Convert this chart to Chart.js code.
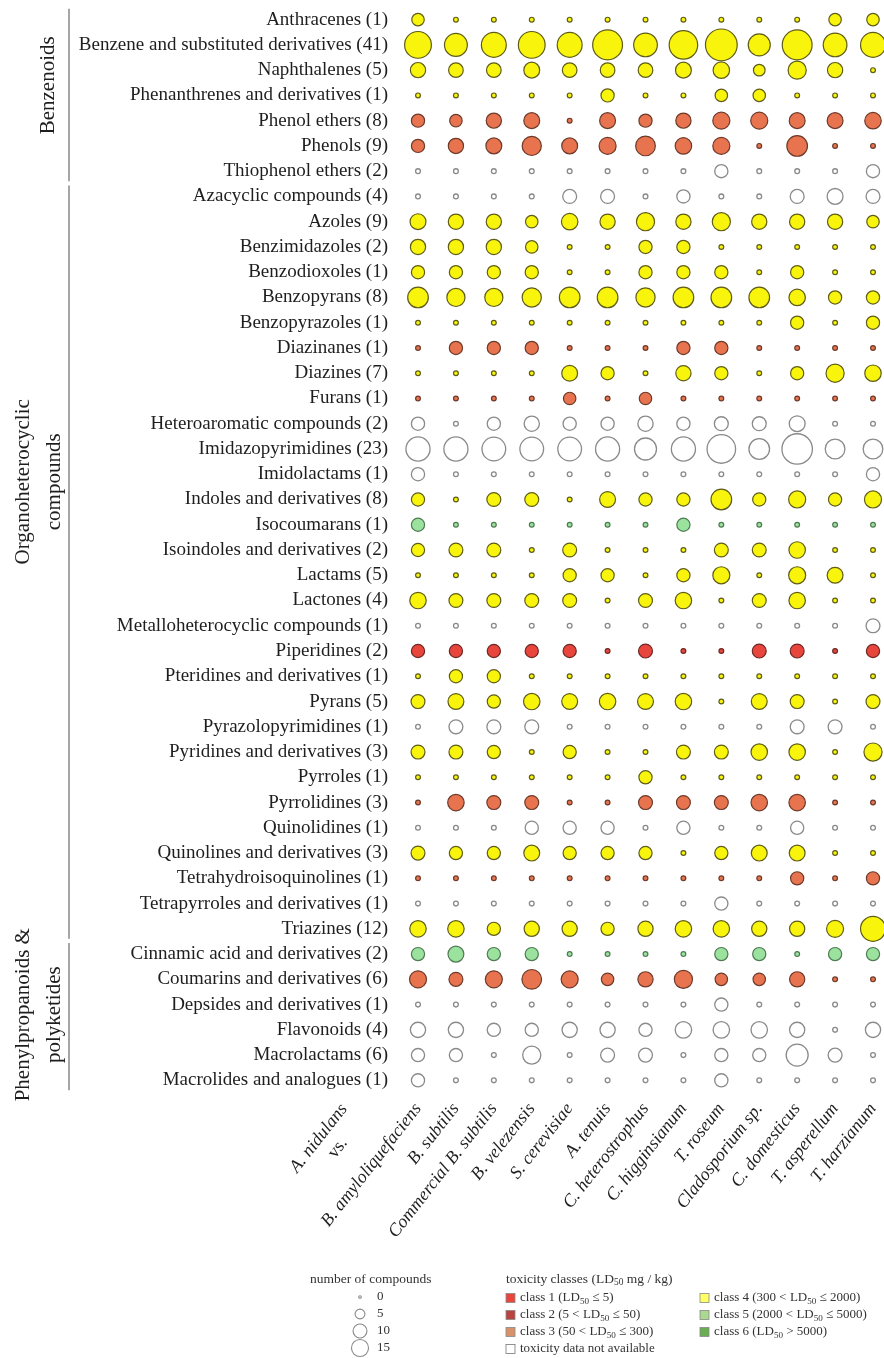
<!DOCTYPE html>
<html>
<head>
<meta charset="utf-8">
<script src="https://cdn.jsdelivr.net/npm/chart.js@4/dist/chart.umd.min.js"></script>
<style>
  html, body { margin: 0; padding: 0; background: #fff; }
  #wrap { width: 884px; height: 1358px; position: relative; }
</style>
</head>
<body>
<div id="wrap"><canvas id="chart" width="884" height="1358"></canvas></div>
<script>
// Organisms compared against A. nidulans (columns)
const species = ['B. amyloliquefaciens', 'B. subtilis', 'Commercial B. subtilis', 'B. velezensis',
  'S. cerevisiae', 'A. tenuis', 'C. heterostrophus', 'C. higginsianum', 'T. roseum',
  'Cladosporium sp.', 'C. domesticus', 'T. asperellum', 'T. harzianum'];

// Chemical classes (rows)
const compoundClasses = [
  'Anthracenes (1)', 'Benzene and substituted derivatives (41)', 'Naphthalenes (5)',
  'Phenanthrenes and derivatives (1)', 'Phenol ethers (8)', 'Phenols (9)', 'Thiophenol ethers (2)',
  'Azacyclic compounds (4)', 'Azoles (9)', 'Benzimidazoles (2)', 'Benzodioxoles (1)', 'Benzopyrans (8)',
  'Benzopyrazoles (1)', 'Diazinanes (1)', 'Diazines (7)', 'Furans (1)', 'Heteroaromatic compounds (2)',
  'Imidazopyrimidines (23)', 'Imidolactams (1)', 'Indoles and derivatives (8)', 'Isocoumarans (1)',
  'Isoindoles and derivatives (2)', 'Lactams (5)', 'Lactones (4)', 'Metalloheterocyclic compounds (1)',
  'Piperidines (2)', 'Pteridines and derivatives (1)', 'Pyrans (5)', 'Pyrazolopyrimidines (1)',
  'Pyridines and derivatives (3)', 'Pyrroles (1)', 'Pyrrolidines (3)', 'Quinolidines (1)',
  'Quinolines and derivatives (3)', 'Tetrahydroisoquinolines (1)', 'Tetrapyrroles and derivatives (1)',
  'Triazines (12)', 'Cinnamic acid and derivatives (2)', 'Coumarins and derivatives (6)',
  'Depsides and derivatives (1)', 'Flavonoids (4)', 'Macrolactams (6)', 'Macrolides and analogues (1)'];

// Toxicity class of each row (1-6, 0 = no data)
const toxicityClass = [4, 4, 4, 4, 3, 3, 0, 0, 4, 4, 4, 4, 4, 3, 4, 3, 0, 0, 0, 4, 5, 4, 4, 4, 0,
  1, 4, 4, 0, 4, 4, 3, 0, 4, 3, 0, 4, 5, 3, 0, 0, 0, 0];

// Number of compounds per class and organism (row = class, column = organism)
const compoundCounts = [
  [8, 0, 0, 0, 0, 0, 0, 0, 0, 0, 0, 8, 8],
  [37, 27, 32, 37, 32, 46, 29, 42, 52, 25, 46, 29, 32],
  [12, 11, 11, 13, 11, 11, 11, 13, 14, 7, 17, 12, 0],
  [0, 0, 0, 0, 0, 9, 0, 0, 8, 8, 0, 0, 0],
  [9, 8, 12, 13, 0, 13, 9, 12, 15, 15, 13, 13, 14],
  [9, 12, 13, 19, 13, 15, 20, 14, 15, 0, 22, 0, 0],
  [0, 0, 0, 0, 0, 0, 0, 0, 9, 0, 0, 0, 9],
  [0, 0, 0, 0, 10, 10, 0, 9, 0, 0, 10, 13, 10],
  [13, 12, 12, 8, 14, 12, 17, 12, 17, 12, 12, 12, 8],
  [12, 12, 12, 8, 0, 0, 9, 9, 0, 0, 0, 0, 0],
  [9, 9, 9, 9, 0, 0, 9, 9, 9, 0, 9, 0, 0],
  [22, 17, 17, 19, 22, 22, 19, 22, 22, 22, 14, 9, 9],
  [0, 0, 0, 0, 0, 0, 0, 0, 0, 0, 9, 0, 9],
  [0, 9, 9, 9, 0, 0, 0, 9, 9, 0, 0, 0, 0],
  [0, 0, 0, 0, 13, 9, 0, 12, 9, 0, 9, 17, 14],
  [0, 0, 0, 0, 8, 0, 8, 0, 0, 0, 0, 0, 0],
  [9, 0, 9, 12, 9, 9, 12, 9, 10, 10, 13, 0, 0],
  [30, 30, 29, 29, 29, 30, 25, 30, 42, 22, 48, 20, 20],
  [9, 0, 0, 0, 0, 0, 0, 0, 0, 0, 0, 0, 9],
  [9, 0, 10, 10, 0, 13, 9, 9, 22, 9, 15, 9, 15],
  [9, 0, 0, 0, 0, 0, 0, 9, 0, 0, 0, 0, 0],
  [9, 10, 10, 0, 10, 0, 0, 0, 10, 10, 14, 0, 0],
  [0, 0, 0, 0, 9, 9, 0, 9, 15, 0, 15, 13, 0],
  [14, 10, 10, 10, 10, 0, 10, 14, 0, 10, 14, 0, 0],
  [0, 0, 0, 0, 0, 0, 0, 0, 0, 0, 0, 0, 10],
  [9, 9, 9, 9, 9, 0, 10, 0, 0, 10, 10, 0, 9],
  [0, 9, 9, 0, 0, 0, 0, 0, 0, 0, 0, 0, 0],
  [10, 13, 9, 14, 13, 14, 13, 14, 0, 13, 10, 0, 10],
  [0, 10, 10, 10, 0, 0, 0, 0, 0, 0, 10, 10, 0],
  [10, 10, 9, 0, 9, 0, 0, 10, 10, 14, 14, 0, 17],
  [0, 0, 0, 0, 0, 0, 9, 0, 0, 0, 0, 0, 0],
  [0, 14, 10, 10, 0, 0, 10, 10, 10, 14, 14, 0, 0],
  [0, 0, 0, 9, 9, 9, 0, 9, 0, 0, 9, 0, 0],
  [10, 9, 9, 13, 9, 9, 9, 0, 9, 13, 13, 0, 0],
  [0, 0, 0, 0, 0, 0, 0, 0, 0, 0, 9, 0, 9],
  [0, 0, 0, 0, 0, 0, 0, 0, 9, 0, 0, 0, 0],
  [14, 14, 9, 12, 12, 9, 12, 14, 14, 12, 12, 15, 32],
  [9, 13, 9, 9, 0, 0, 0, 0, 9, 9, 0, 9, 9],
  [15, 10, 15, 20, 15, 8, 12, 17, 8, 8, 12, 0, 0],
  [0, 0, 0, 0, 0, 0, 0, 0, 9, 0, 0, 0, 0],
  [12, 12, 9, 9, 12, 12, 9, 14, 14, 14, 12, 0, 12],
  [9, 9, 0, 17, 0, 10, 10, 0, 9, 9, 25, 10, 0],
  [9, 0, 0, 0, 0, 0, 0, 0, 9, 0, 0, 0, 0]];

// Super-classes bracketing the rows
const superClassNames = [['Benzenoids'], ['Organoheterocyclic', 'compounds'], ['Phenylpropanoids &', 'polyketides']];
const superClassFirstRow = [0, 7, 37];
const superClassLastRow = [6, 36, 42];

// Legend entries
const sizeLegendValues = [0, 5, 10, 15];

// Styling per toxicity class (index 0 = data not available)
const bubbleFill = ['#ffffff', '#e8463d', '#b8433f', '#e8734f', '#f9f40c', '#9ae29d', '#63ad5c'];
const bubbleEdge = ['#8a8a8a', '#6d2824', '#5e2220', '#6d3a2a', '#5e5c16', '#4f7a53', '#2f5a2c'];
const legendFill = ['#ffffff', '#e8463d', '#b8433f', '#d9916a', '#ffff66', '#a9d88e', '#6aae52'];
const legendText = [
  [['toxicity data not available', 0]],
  [['class 1 (LD', 0], ['50', 1], [' \u2264 5)', 0]],
  [['class 2 (5 < LD', 0], ['50', 1], [' \u2264 50)', 0]],
  [['class 3 (50 < LD', 0], ['50', 1], [' \u2264 300)', 0]],
  [['class 4 (300 < LD', 0], ['50', 1], [' \u2264 2000)', 0]],
  [['class 5 (2000 < LD', 0], ['50', 1], [' \u2264 5000)', 0]],
  [['class 6 (LD', 0], ['50', 1], [' > 5000)', 0]]];

const SERIF = '"Liberation Serif", "DejaVu Serif", serif';

// Bubble radius (px) from number of compounds
function radiusFor(n) {
  return n > 0 ? 2.2 * Math.sqrt(n) : 2.4;
}

// One dataset per toxicity class
const datasets = [0, 1, 2, 3, 4, 5, 6].map(cls => {
  const pts = [];
  compoundClasses.forEach((name, i) => {
    if (toxicityClass[i] !== cls) return;
    species.forEach((sp, j) => {
      const n = compoundCounts[i][j];
      pts.push({ x: sp, y: name, r: radiusFor(n), n: n });
    });
  });
  return {
    label: 'class ' + cls,
    data: pts,
    backgroundColor: bubbleFill[cls],
    borderColor: bubbleEdge[cls],
    borderWidth: cls === 0 ? 1.3 : 1.2,
    clip: false
  };
}).filter(d => d.data.length);

// Draws text made of normal and subscript runs
function richText(ctx, runs, x, y, size) {
  let cx = x;
  runs.forEach(([t, sub]) => {
    ctx.font = (sub ? size * 0.7 : size) + 'px ' + SERIF;
    ctx.fillText(t, cx, y + (sub ? size * 0.28 : 0));
    cx += ctx.measureText(t).width;
  });
}

const decorations = {
  id: 'decorations',
  afterDraw(chart) {
    const ctx = chart.ctx;
    const ys = chart.scales.y;
    const xs = chart.scales.x;
    ctx.save();

    // super-class brackets and names (name centre given as a row position)
    const nameCentreRow = [2.6, 18.3, 39.4];
    superClassNames.forEach((lines, k) => {
      const y0 = ys.getPixelForValue(superClassFirstRow[k]) - 11;
      const y1 = ys.getPixelForValue(superClassLastRow[k]) + 10;
      ctx.strokeStyle = '#6a6a6a';
      ctx.lineWidth = 1.2;
      ctx.beginPath();
      ctx.moveTo(69, y0);
      ctx.lineTo(69, y1);
      ctx.stroke();
      const mid = ys.getPixelForValue(nameCentreRow[k]);
      ctx.fillStyle = '#1e1e1e';
      ctx.font = '21px ' + SERIF;
      ctx.textAlign = 'center';
      ctx.textBaseline = 'middle';
      const xsPos = lines.length === 1 ? [48] : [23, 54];
      lines.forEach((t, li) => {
        ctx.save();
        ctx.translate(xsPos[li], mid);
        ctx.rotate(-Math.PI / 2);
        ctx.fillText(t, 0, 0);
        ctx.restore();
      });
    });

    // reference organism heading of the column labels
    const ang = -52 * Math.PI / 180;
    const hx = xs.getPixelForValue(-1.95);
    const hy = xs.top + 13;
    ctx.save();
    ctx.translate(hx, hy);
    ctx.rotate(ang);
    ctx.fillStyle = '#1e1e1e';
    ctx.font = 'italic 18px ' + SERIF;
    ctx.textAlign = 'right';
    ctx.textBaseline = 'middle';
    ctx.fillText('A. nidulans', 0, 0);
    const w = ctx.measureText('A. nidulans').width;
    ctx.textAlign = 'center';
    ctx.font = '18px ' + SERIF;
    ctx.fillText('vs.', -w / 2 + 4, 21);
    ctx.restore();

    // size legend
    ctx.fillStyle = '#333';
    ctx.textBaseline = 'middle';
    ctx.textAlign = 'left';
    ctx.font = '13.5px ' + SERIF;
    ctx.fillText('number of compounds', 310, 1279);
    const rowsY = [1297, 1314, 1331, 1348];
    sizeLegendValues.forEach((v, k) => {
      ctx.beginPath();
      ctx.arc(360, rowsY[k], v === 0 ? 1.3 : radiusFor(v), 0, Math.PI * 2);
      ctx.strokeStyle = '#8a8a8a';
      ctx.lineWidth = 1.1;
      ctx.fillStyle = '#fff';
      ctx.fill();
      ctx.stroke();
      ctx.fillStyle = '#333';
      ctx.font = '13px ' + SERIF;
      ctx.fillText(String(v), 377, rowsY[k]);
    });

    // toxicity legend
    ctx.fillStyle = '#333';
    richText(ctx, [['toxicity classes (LD', 0], ['50', 1], [' mg / kg)', 0]], 506, 1279, 13.5);
    const legendSlots = [[1, 506, 1298], [2, 506, 1315], [3, 506, 1332], [0, 506, 1349],
      [4, 700, 1298], [5, 700, 1315], [6, 700, 1332]];
    legendSlots.forEach(([cls, lx, ly]) => {
      ctx.fillStyle = legendFill[cls];
      ctx.strokeStyle = cls === 0 ? '#777' : '#888';
      ctx.lineWidth = 0.8;
      ctx.fillRect(lx, ly - 4.5, 9, 9);
      ctx.strokeRect(lx, ly - 4.5, 9, 9);
      ctx.fillStyle = '#333';
      richText(ctx, legendText[cls], lx + 14, ly, 13);
    });
    ctx.restore();
  }
};

new Chart(document.getElementById('chart'), {
  type: 'bubble',
  data: { datasets },
  options: {
    responsive: false,
    devicePixelRatio: 1,
    animation: false,
    layout: { autoPadding: false, padding: { top: 7, right: 11, left: 0, bottom: 0 } },
    plugins: { legend: { display: false }, tooltip: { enabled: false } },
    scales: {
      x: {
        type: 'category',
        labels: species,
        offset: false,
        grid: { display: false, drawTicks: false },
        border: { display: false },
        afterFit: s => { s.height = 265; s.paddingLeft = 0; s.paddingRight = 0; },
        ticks: {
          autoSkip: false,
          minRotation: 52,
          maxRotation: 52,
          padding: 6,
          color: '#1e1e1e',
          font: { family: SERIF, size: 18, style: 'italic' }
        }
      },
      y: {
        type: 'category',
        labels: compoundClasses,
        offset: true,
        grid: { display: false, drawTicks: false },
        border: { display: false },
        afterFit: s => { s.width = 418; s.paddingTop = 0; s.paddingBottom = 0; },
        ticks: {
          autoSkip: false,
          padding: 30,
          color: '#1e1e1e',
          font: { family: SERIF, size: 19 }
        }
      }
    }
  },
  plugins: [decorations]
});
</script>
</body>
</html>
